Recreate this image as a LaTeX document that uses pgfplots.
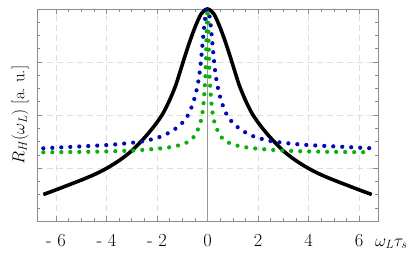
\documentclass[border=0pt]{standalone}
\usepackage{pgfplots}
\pgfplotsset{compat=1.18}
\definecolor{mblue}{rgb}{0.0,0.04,0.70}
\definecolor{mgreen}{rgb}{0.04,0.69,0.04}
\definecolor{framegray}{gray}{0.55}
\begin{document}
\begin{tikzpicture}
\useasboundingbox (0,0) rectangle (419bp,255bp);
\begin{axis}[
  at={(37bp,34bp)}, anchor=south west,
  scale only axis, width=341bp, height=212bp,
  xmin=-6.75, xmax=6.75, ymin=0, ymax=1,
  clip=false,
  xtick={-6,-4,-2,0,2,4,6},
  xticklabels={\mbox{- 6},\mbox{- 4},\mbox{- 2},0,2,4,6},
  minor x tick num=3,
  ytick={0,0.25,0.5,0.75,1}, yticklabels={},
  minor y tick num=3,
  xtick pos=both, ytick pos=both,
  tick align=inside,
  major tick length=5bp, minor tick length=3bp,
  every tick/.style={framegray, line width=0.5pt},
  axis line style={framegray, line width=0.8pt},
  grid=major,
  major grid style={black!13, dash pattern=on 6bp off 4bp, line width=0.7pt},
  xticklabel style={font=\fontsize{18.5}{21}\selectfont, anchor=base, yshift=-25bp},
]
\draw[gray!80, line width=0.6pt] (axis cs:0,0) -- (axis cs:0,1);

\addplot[black, line width=3.6bp, smooth] coordinates {
(-6.5,0.125)(-6,0.147)(-5.5,0.17)(-5,0.193)(-4.5,0.218)(-4,0.248)(-3.5,0.285)(-3,0.331)(-2.5,0.392)(-2.25,0.427)(-2,0.465)(-1.75,0.51)(-1.5,0.57)(-1.25,0.643)(-1,0.737)(-0.75,0.83)(-0.5,0.912)(-0.25,0.977)(0,1)
(0.25,0.977)(0.5,0.912)(0.75,0.83)(1,0.737)(1.25,0.643)(1.5,0.57)(1.75,0.51)(2,0.465)(2.25,0.427)(2.5,0.392)(3,0.331)(3.5,0.285)(4,0.248)(4.5,0.218)(5,0.193)(5.5,0.17)(6,0.147)(6.5,0.125)
};

\addplot[mblue, line width=4.2bp, line cap=round, dash pattern=on 0bp off 9bp, smooth] coordinates {
(-6.5,0.343)(-6,0.346)(-5,0.352)(-4,0.358)(-3.5,0.363)(-3,0.369)(-2.5,0.377)(-2,0.392)(-1.75,0.403)(-1.5,0.418)(-1.25,0.437)(-1,0.463)(-0.8,0.494)(-0.7,0.517)(-0.6,0.547)(-0.5,0.585)(-0.4,0.635)(-0.35,0.668)(-0.3,0.71)(-0.25,0.765)(-0.2,0.83)(-0.15,0.895)(-0.1,0.95)(-0.05,0.985)(0,1)
(0.05,0.985)(0.1,0.95)(0.15,0.895)(0.2,0.83)(0.25,0.765)(0.3,0.71)(0.35,0.668)(0.4,0.635)(0.5,0.585)(0.6,0.547)(0.7,0.517)(0.8,0.494)(1,0.463)(1.25,0.437)(1.5,0.418)(1.75,0.403)(2,0.392)(2.5,0.377)(3,0.369)(3.5,0.363)(4,0.358)(5,0.352)(6,0.346)(6.5,0.343)
};

\addplot[mgreen, line width=4.2bp, line cap=round, dash pattern=on 0bp off 9bp, smooth] coordinates {
(-6.5,0.324)(-5,0.326)(-4,0.328)(-3,0.332)(-2.5,0.336)(-2,0.341)(-1.6,0.346)(-1.2,0.355)(-0.9,0.366)(-0.65,0.382)(-0.45,0.414)(-0.32,0.45)(-0.25,0.478)(-0.2,0.51)(-0.16,0.55)(-0.12,0.61)(-0.1,0.645)(-0.08,0.69)(-0.06,0.77)(-0.04,0.87)(-0.02,0.95)(0,1)
(0.02,0.95)(0.04,0.87)(0.06,0.77)(0.08,0.69)(0.1,0.645)(0.12,0.61)(0.16,0.55)(0.2,0.51)(0.25,0.478)(0.32,0.45)(0.45,0.414)(0.65,0.382)(0.9,0.366)(1.2,0.355)(1.6,0.346)(2,0.341)(2.5,0.336)(3,0.332)(4,0.328)(5,0.326)(6.5,0.324)
};

\node[anchor=base west, font=\fontsize{18}{21}\selectfont, inner sep=0pt] at (rel axis cs:1,0) [xshift=-3bp, yshift=-25bp] {$\omega_L\tau_s$};
\node[xshift=-17bp, rotate=90, anchor=center, font=\fontsize{17}{20}\selectfont, inner sep=0pt] at (rel axis cs:0,0.5) {$R_H(\omega_L)$ [a.\ u.]};
\end{axis}
\end{tikzpicture}
\end{document}
